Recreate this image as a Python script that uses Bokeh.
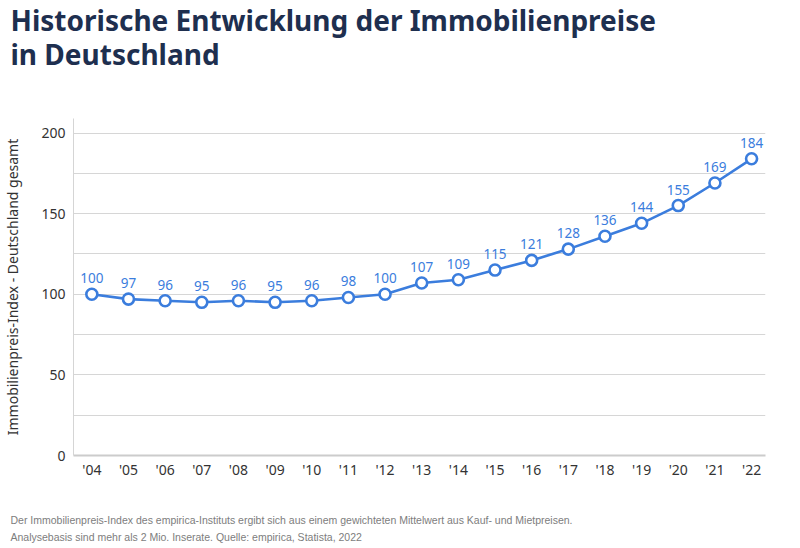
from bokeh.plotting import figure
from bokeh.models import ColumnDataSource, Title, FixedTicker, CustomJSTickFormatter, LabelSet, Range1d
from bokeh.core.properties import value
from bokeh.embed import file_html
from bokeh.resources import INLINE

years = list(range(2004, 2023))
tick_labels = ["'04", "'05", "'06", "'07", "'08", "'09", "'10", "'11", "'12", "'13",
               "'14", "'15", "'16", "'17", "'18", "'19", "'20", "'21", "'22"]
index_values = [100, 97, 96, 95, 96, 95, 96, 98, 100, 107, 109, 115, 121, 128, 136, 144, 155, 169, 184]

title_text = "Historische Entwicklung der Immobilienpreise\nin Deutschland"
y_label = "Immobilienpreis-Index - Deutschland gesamt"
note_text = ("Der Immobilienpreis-Index des empirica-Instituts ergibt sich aus einem gewichteten Mittelwert aus Kauf- und Mietpreisen.\n"
             "Analysebasis sind mehr als 2 Mio. Inserate. Quelle: empirica, Statista, 2022")

BLUE = "#3b7ddd"
NAVY = "#1e2f4f"

src = ColumnDataSource(dict(x=years, y=index_values, lbl=[str(v) for v in index_values]))

p = figure(width=800, height=548, output_backend="svg", toolbar_location=None,
           x_range=Range1d(2003.5, 2022.38), y_range=Range1d(0, 209),
           min_border_left=71, min_border_right=35, min_border_top=0, min_border_bottom=0)
p.outline_line_color = None
p.background_fill_color = "white"
p.border_fill_color = "white"

p.line("x", "y", source=src, line_color=BLUE, line_width=2.6)
p.scatter("x", "y", source=src, size=11, fill_color="white", line_color=BLUE, line_width=2.6)

labels = LabelSet(x="x", y="y", text="lbl", source=src, y_offset=11, text_align="center",
                  text_baseline="bottom", text_color=BLUE, text_font=value("Noto Sans"),
                  text_font_size="13.5px")
p.add_layout(labels)

# axes
p.xaxis.ticker = FixedTicker(ticks=years)
p.xaxis.major_label_overrides = {y: t for y, t in zip(years, tick_labels)}
p.xaxis.major_label_text_font = "Noto Sans"
p.xaxis.major_label_text_font_size = "14px"
p.xaxis.major_label_text_color = "#333333"
p.xaxis.major_tick_line_color = None
p.xaxis.minor_tick_line_color = None
p.xaxis.major_tick_out = 0
p.xaxis.major_tick_in = 0
p.xaxis.axis_line_color = "#cccccc"
p.xaxis.axis_line_width = 2
p.xaxis.major_label_standoff = 4

p.yaxis.ticker = FixedTicker(ticks=[0, 25, 50, 75, 100, 125, 150, 175, 200])
p.yaxis.formatter = CustomJSTickFormatter(code="return (tick % 50 === 0) ? tick.toString() : '';")
p.yaxis.major_label_text_font = "Noto Sans"
p.yaxis.major_label_text_font_size = "14px"
p.yaxis.major_label_text_color = "#333333"
p.yaxis.major_tick_line_color = None
p.yaxis.minor_tick_line_color = None
p.yaxis.major_tick_out = 0
p.yaxis.major_tick_in = 0
p.yaxis.axis_line_color = "#d5d5d5"
p.yaxis.axis_line_width = 1
p.yaxis.major_label_standoff = 8
p.yaxis.axis_label = y_label
p.yaxis.axis_label_text_font = "Noto Sans"
p.yaxis.axis_label_text_font_size = "14px"
p.yaxis.axis_label_text_font_style = "normal"
p.yaxis.axis_label_text_color = "#333333"
p.yaxis.axis_label_standoff = 16

p.xgrid.grid_line_color = None
p.ygrid.grid_line_color = "#d6d6d6"
p.ygrid.grid_line_width = 1

# above: spacer (closest to frame), then the title on top
top_spacer = Title(text=" ", text_font_size="1px", standoff=41)
p.add_layout(top_spacer, "above")
t = Title(text=title_text, align="left", offset=-63, text_font="Noto Sans",
          text_font_size="28px", text_font_style="bold", text_color=NAVY,
          text_line_height=0.9, standoff=0, vertical_align="top")
p.add_layout(t, "above")

# below: axis, spacer, note
bottom_spacer = Title(text=" ", text_font_size="1px", standoff=22)
p.add_layout(bottom_spacer, "below")
n = Title(text=note_text, align="left", offset=-63, text_font="Liberation Sans",
          text_font_size="10.5px", text_font_style="normal", text_color="#7d7d7d",
          text_line_height=1.4, standoff=11)
p.add_layout(n, "below")

open("out.html", "w").write(file_html(p, INLINE))
